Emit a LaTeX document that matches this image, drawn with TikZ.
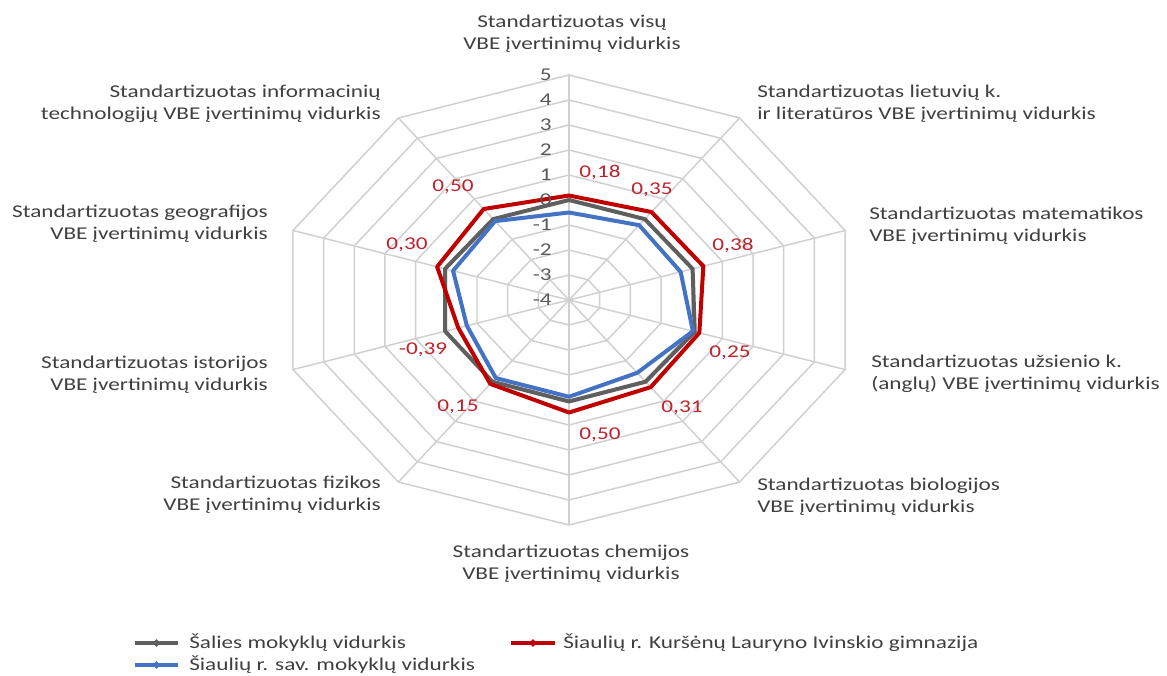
\documentclass[tikz,border=0pt]{standalone}
\usepackage{fontspec}
\setmainfont{Carlito}[FakeStretch=1.29]
\usetikzlibrary{shapes.geometric,calc}
\definecolor{gridc}{RGB}{208,208,208}
\definecolor{labc}{RGB}{64,64,64}
\definecolor{numc}{RGB}{89,89,89}
\definecolor{redc}{RGB}{192,0,0}
\definecolor{redt}{RGB}{190,35,45}
\definecolor{grayc}{RGB}{95,95,95}
\definecolor{bluec}{RGB}{68,114,196}
\newcommand\lblfont{\fontsize{13.5}{16.5}\selectfont}
\begin{document}
\begin{tikzpicture}[x=0.75pt,y=-0.75pt,
  gridline/.style={draw=gridc, line width=1.1pt},
  ser/.style={line width=3pt, line join=round},
  cat/.style={font=\lblfont, text=labc, inner sep=0pt},
  num/.style={font=\lblfont, text=numc, inner sep=0pt, anchor=east},
  val/.style={font=\lblfont, text=redt, inner sep=0pt},
  leg/.style={font=\lblfont, text=labc, inner sep=0pt, anchor=west},
  mk/.style={diamond, inner sep=0pt, minimum width=6pt, minimum height=6pt}]
\useasboundingbox (0,0) rectangle (1167,675);
\fill[white] (0,0) rectangle (1167,675);
\begin{scope}[shift={(569,300)}, x=24.1875pt, y=18.75pt]
  \coordinate (C) at (0,0);
  % rings
  \foreach \r in {1,...,9}
    \draw[gridline] (90:\r) \foreach \k in {1,...,9}{ -- ({90-36*\k}:\r)} -- cycle;
  % spokes
  \foreach \k in {0,...,9} {
    \coordinate (S\k) at ({90-36*\k}:9);
    \draw[gridline] (C) -- (S\k);
  }
  % series data
  \foreach \v [count=\i from 0] in {0,0,0.03,0.1,0.04,0.06,0.04,0.04,0.04,0}
    \coordinate (G\i) at ({90-36*\i}:{\v+4});
  \foreach \v [count=\i from 0] in {-0.5,-0.3,-0.36,0.04,-0.4,-0.13,-0.14,-0.67,-0.22,-0.1}
    \coordinate (B\i) at ({90-36*\i}:{\v+4});
  \foreach \v [count=\i from 0] in {0.18,0.35,0.38,0.25,0.31,0.50,0.15,-0.39,0.30,0.50}
    \coordinate (R\i) at ({90-36*\i}:{\v+4});
  \draw[ser, grayc] (G0) -- (G1) -- (G2) -- (G3) -- (G4) -- (G5) -- (G6) -- (G7) -- (G8) -- (G9) -- cycle;
  \draw[ser, bluec] (B0) -- (B1) -- (B2) -- (B3) -- (B4) -- (B5) -- (B6) -- (B7) -- (B8) -- (B9) -- cycle;
  \draw[ser, redc] (R0) -- (R1) -- (R2) -- (R3) -- (R4) -- (R5) -- (R6) -- (R7) -- (R8) -- (R9) -- cycle;
\end{scope}
% axis numbers
\foreach \n [count=\j from 0] in {5,4,3,2,1,0,-1,-2,-3,-4}
  \node[num] (N\j) at (552,{75+25*\j}) {\n};
% value labels
\node[val] (V0) at (600,173) {0,18};
\node[val] (V1) at (652,190) {0,35};
\node[val] (V2) at (733,245) {0,38};
\node[val] (V3) at (730,353) {0,25};
\node[val] (V4) at (682,408) {0,31};
\node[val] (V5) at (600,435) {0,50};
\node[val] (V6) at (458,407) {0,15};
\node[val] (V7) at (423,350) {-0,39};
\node[val] (V8) at (407,245) {0,30};
\node[val] (V9) at (453,187) {0,50};
% category labels
\node[cat, align=center] (L0) at (572,34) {Standartizuotas visų\\VBE įvertinimų vidurkis};
\node[cat, align=left, anchor=west] (L1) at (757,104) {Standartizuotas lietuvių k.\\ir literatūros VBE įvertinimų vidurkis};
\node[cat, align=left, anchor=west] (L2) at (869,226) {Standartizuotas matematikos\\VBE įvertinimų vidurkis};
\node[cat, align=left, anchor=west] (L3) at (871,374) {Standartizuotas užsienio k.\\(anglų) VBE įvertinimų vidurkis};
\node[cat, align=left, anchor=west] (L4) at (757,497) {Standartizuotas biologijos\\VBE įvertinimų vidurkis};
\node[cat, align=center] (L5) at (571,564) {Standartizuotas chemijos\\VBE įvertinimų vidurkis};
\node[cat, align=right, anchor=east] (L6) at (381,495) {Standartizuotas fizikos\\VBE įvertinimų vidurkis};
\node[cat, align=right, anchor=east] (L7) at (268,375) {Standartizuotas istorijos\\VBE įvertinimų vidurkis};
\node[cat, align=right, anchor=east] (L8) at (268,224) {Standartizuotas geografijos\\VBE įvertinimų vidurkis};
\node[cat, align=right, anchor=east] (L9) at (381,104) {Standartizuotas informacinių\\technologijų VBE įvertinimų vidurkis};
% legend
\coordinate (gA) at (135,643); \coordinate (gB) at (178,643);
\coordinate (bA) at (135,665); \coordinate (bB) at (178,665);
\coordinate (rA) at (511,643); \coordinate (rB) at (555,643);
\draw[ser, grayc] (gA) -- (gB);
\draw[ser, bluec] (bA) -- (bB);
\draw[ser, redc] (rA) -- (rB);
\node[mk, fill=grayc] (gM) at ($(gA)!0.5!(gB)$) {};
\node[mk, fill=bluec] (bM) at ($(bA)!0.5!(bB)$) {};
\node[mk, fill=redc] (rM) at ($(rA)!0.5!(rB)$) {};
\node[leg] (T1) at (189,643) {Šalies mokyklų vidurkis};
\node[leg] (T2) at (189,665) {Šiaulių r. sav. mokyklų vidurkis};
\node[leg] (T3) at (563,643) {Šiaulių r. Kuršėnų Lauryno Ivinskio gimnazija};
\end{tikzpicture}
\end{document}
